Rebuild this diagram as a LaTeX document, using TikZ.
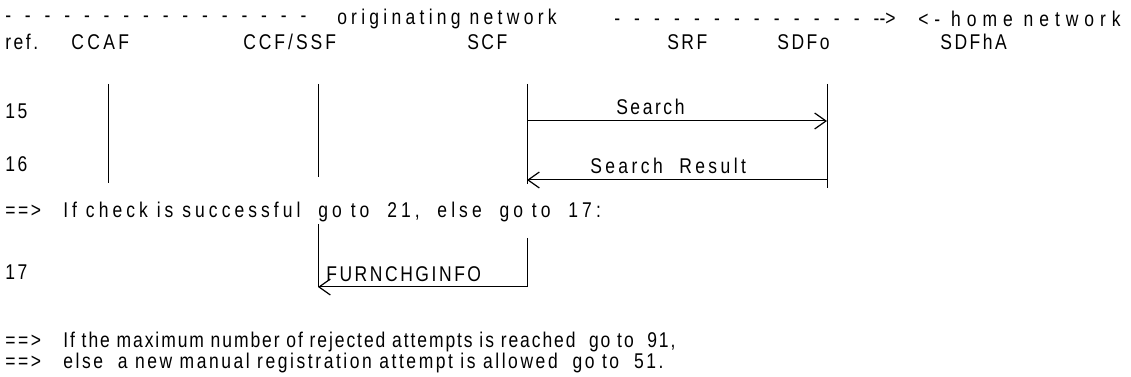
\documentclass[tikz,border=0pt]{standalone}
\usepackage{fontspec}
\setmainfont{Liberation Sans}[FakeStretch=0.82,LetterSpace=12]
\usetikzlibrary{arrows.meta}
\newcommand\dashrow[2]{\foreach \i in {1,...,#1}{-\hspace{#2}}}
\newcommand\ls[1]{\addfontfeature{LetterSpace=#1}}
\newcommand\hy{\mbox{-}}
\begin{document}
\begin{tikzpicture}[x=0.75pt,y=-0.75pt,
  txt/.style={anchor=west,inner sep=0pt,font=\fontsize{16}{18}\selectfont},
  life/.style={draw=black,line width=0.75pt},
  msg/.style={draw=black,line width=0.75pt,-{Straight Barb[length=8.5pt,width=12pt,line width=0.9pt]}}]
\useasboundingbox (0,0) rectangle (1131,377);
% header row
\node[txt] (d1) at (5,19) {\dashrow{16}{10.4pt}};
\node[txt] (orig) at (337,19) {\ls{20}originating network};
\node[txt] (d2) at (614,19) {\dashrow{13}{10.6pt}\hy\hy\mbox{>}};
\node[txt] (home) at (918,19) {\ls{28}<- home network};
% entity row
\node[txt] (ref) at (5,42) {ref.};
\node[txt] (ccaf) at (71,42) {\ls{16}CCAF};
\node[txt] (ccf) at (243,42) {\ls{14}CCF/SSF};
\node[txt] (scf) at (467,42) {SCF};
\node[txt] (srf) at (667,42) {SRF};
\node[txt] (sdfo) at (777,42) {SDFo};
\node[txt] (sdfha) at (940,42) {SDFhA};
% lifelines
\coordinate (a1) at (108,84); \coordinate (a2) at (108,183);
\coordinate (b1) at (318,84); \coordinate (b2) at (318,177);
\coordinate (c1) at (527,84); \coordinate (c2) at (527,184);
\coordinate (e1) at (827,84); \coordinate (e2) at (827,188);
\draw[life] (a1) -- (a2);
\draw[life] (b1) -- (b2);
\draw[life] (c1) -- (c2);
\draw[life] (e1) -- (e2);
% rows
\node[txt] (r15) at (5,111) {15};
\node[txt] (r16) at (5,164) {16};
\coordinate (s1) at (527,121); \coordinate (s2) at (827,121);
\draw[msg] (s1) -- (s2);
\node[txt] (lsearch) at (616,107) {Search};
\coordinate (t1) at (827,180); \coordinate (t2) at (527,180);
\draw[msg] (t1) -- (t2);
\node[txt] (lresult) at (590,166) {\ls{16}Search\ \ Result};
\node[txt] (chk) at (5,212) {==>\ \ \ \ls{19}If check is successful\ \ go to\ \ 21,\ \ else\ \ go to\ \ 17:};
\node[txt] (r17) at (5,272) {17};
\coordinate (f0) at (527,238); \coordinate (f1) at (527,287);
\coordinate (f2) at (318,287); \coordinate (f3) at (318,224);
\draw[life] (f3) -- (f2);
\draw[msg] (f0) -- (f1) -- (f2);
\node[txt] (lfur) at (326,274) {FURNCHGINFO};
\node[txt] (m1) at (5,342) {==>\ \ \ \ls{9}If the maximum number of rejected attempts is reached\ \ go to\ \ 91,};
\node[txt] (m2) at (5,363) {==>\ \ \ else\ \ a new manual registration attempt is allowed\ \ go to\ \ 51.};
\end{tikzpicture}
\end{document}
